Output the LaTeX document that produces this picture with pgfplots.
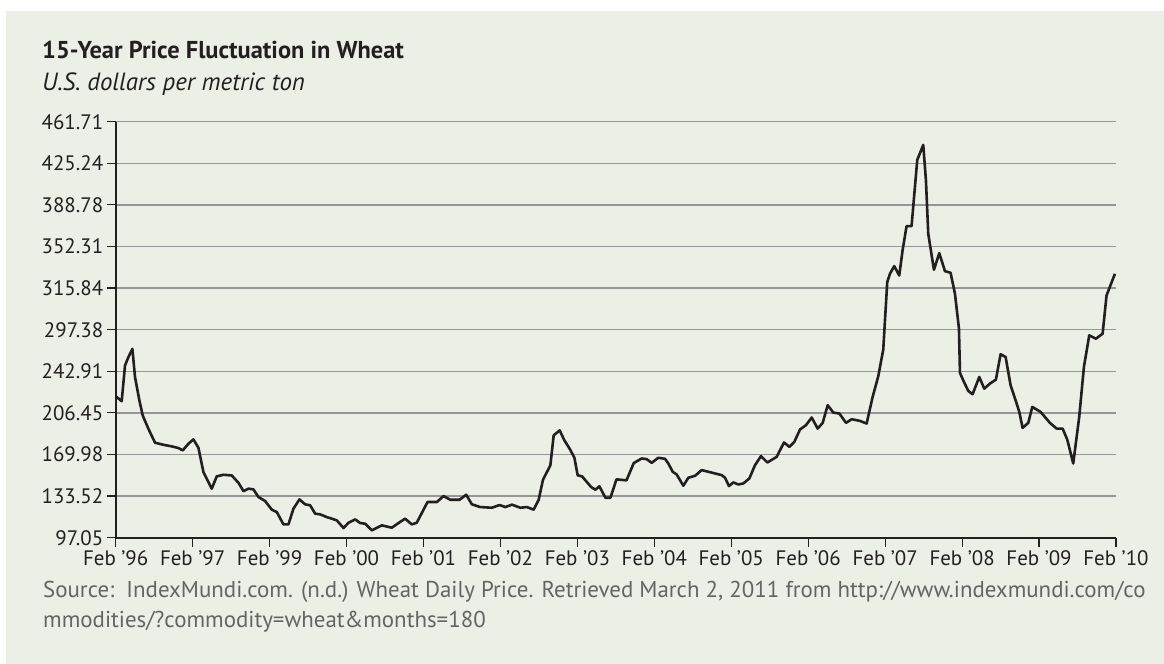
\documentclass[border=0pt]{standalone}
\usepackage{fontspec}
\setmainfont{PT Sans}
\usepackage{pgfplots}
\pgfplotsset{compat=1.18}

\definecolor{panel}{RGB}{235,239,230}
\definecolor{ink}{RGB}{35,31,32}
\definecolor{gridgray}{RGB}{150,150,150}
\definecolor{srcgray}{RGB}{100,100,100}

% Monthly wheat price; x is measured in tick intervals (one per labelled year)
\pgfplotstableread{
t v
0.000 221.1
0.078 216.7
0.121 248.0
0.165 255.3
0.217 262.6
0.251 237.8
0.308 217.3
0.351 204.2
0.425 192.5
0.511 180.3
0.620 178.5
0.728 177.1
0.815 175.6
0.871 173.6
0.945 179.4
1.010 183.2
1.075 175.9
1.140 154.6
1.248 140.0
1.313 150.8
1.400 152.2
1.508 151.6
1.595 145.2
1.660 137.9
1.725 140.0
1.790 139.4
1.855 132.7
1.942 129.2
2.029 121.6
2.094 119.5
2.180 108.7
2.245 108.7
2.310 122.5
2.388 130.6
2.462 126.3
2.527 125.4
2.592 118.1
2.657 117.5
2.744 115.1
2.809 113.7
2.874 112.2
2.961 105.5
3.026 110.2
3.112 113.1
3.177 109.9
3.242 109.3
3.329 103.5
3.458 107.9
3.588 105.8
3.675 109.9
3.761 113.7
3.848 108.7
3.913 110.2
4.052 128.3
4.174 128.3
4.260 133.6
4.347 130.3
4.469 130.3
4.555 134.7
4.629 126.3
4.738 123.9
4.889 123.3
4.989 125.7
5.063 123.9
5.150 126.0
5.258 123.3
5.345 123.9
5.432 121.6
5.497 130.3
5.553 147.9
5.649 160.5
5.692 186.8
5.770 191.1
5.831 182.4
5.900 175.0
5.961 167.2
6.004 151.7
6.061 150.8
6.178 141.5
6.234 139.1
6.286 142.1
6.364 132.1
6.430 132.1
6.508 148.2
6.638 147.3
6.733 162.5
6.836 166.5
6.900 165.9
6.966 162.7
7.052 167.1
7.139 166.2
7.182 162.1
7.239 154.8
7.290 152.5
7.377 142.6
7.442 149.6
7.529 151.3
7.615 156.3
7.875 151.9
7.919 149.6
7.970 142.3
8.027 145.5
8.092 143.7
8.157 144.6
8.235 149.0
8.308 160.6
8.386 168.5
8.469 163.0
8.590 167.9
8.685 180.5
8.755 176.7
8.820 181.1
8.893 191.9
8.971 195.7
9.045 202.4
9.123 192.7
9.188 197.7
9.253 213.2
9.326 206.7
9.405 205.9
9.491 197.7
9.565 200.9
9.673 199.4
9.759 197.1
9.837 220.4
9.910 238.5
9.975 261.9
10.027 321.1
10.062 328.4
10.118 335.1
10.183 326.9
10.226 348.8
10.278 370.1
10.343 370.1
10.417 428.2
10.495 441.3
10.530 410.1
10.560 363.4
10.634 331.9
10.703 346.5
10.777 330.7
10.850 329.3
10.907 310.9
10.959 280.3
10.972 241.5
11.024 233.6
11.080 225.7
11.136 222.8
11.223 237.9
11.288 227.7
11.361 232.1
11.439 235.6
11.500 257.8
11.565 255.5
11.630 230.7
11.695 217.5
11.743 207.3
11.786 193.3
11.860 197.7
11.912 211.7
12.020 207.3
12.141 197.7
12.228 192.7
12.306 192.7
12.366 183.1
12.444 162.1
12.522 202.9
12.583 246.7
12.652 274.4
12.739 271.5
12.826 275.9
12.877 309.4
12.986 328.4
}\wheat

\begin{document}
\begin{tikzpicture}[x=1bp,y=1bp]
% page and panel
\fill[white] (0,0) rectangle (1164,664);
\fill[panel] (6,0) rectangle (1164,653);

% heading
\node[anchor=base west, inner sep=0, text=ink,
      font=\fontsize{24.5}{24.5}\selectfont\bfseries] at (42,605)
  {15-Year Price Fluctuation in Wheat};
\node[anchor=base west, inner sep=0, text=ink,
      font=\fontsize{25}{25}\selectfont\itshape] at (42,573)
  {U.S. dollars per metric ton};

\begin{axis}[
  at={(115.7bp,126.3bp)}, anchor=south west,
  scale only axis, width=1000.3bp, height=416bp,
  xmin=0, xmax=13, ymin=97.05, ymax=461.71,
  axis x line*=bottom, axis y line*=left,
  axis line style={ink, line width=1.8bp},
  tick align=outside, major tick length=9bp,
  tick style={ink, line width=1.2bp},
  xtick={0,...,13},
  xticklabels={Feb '96, Feb '97, Feb '99, Feb '00, Feb '01, Feb '02, Feb '03,
               Feb '04, Feb '05, Feb '06, Feb '07, Feb '08, Feb '09, Feb '10},
  ytick={97.05,133.516,169.982,206.448,242.914,279.38,315.846,352.312,388.778,425.244,461.71},
  yticklabels={97.05,133.52,169.98,206.45,242.91,297.38,315.84,352.31,388.78,425.24,461.71},
  ticklabel style={text=ink, font=\fontsize{21}{21}\selectfont},
  ymajorgrids, major grid style={gridgray, line width=1.3bp},
  clip=false,
]
\addplot[ink, line width=2.6bp, line join=round] table[x=t, y=v] {\wheat};
\end{axis}

% source note
\node[anchor=base west, inner sep=0, text=srcgray,
      font=\fontsize{23}{23}\selectfont] at (43,66)
  {Source:\ \ IndexMundi.com. (n.d.) Wheat Daily Price. Retrieved March 2, 2011 from http://www.indexmundi.com/co};
\node[anchor=base west, inner sep=0, text=srcgray,
      font=\fontsize{23}{23}\selectfont] at (43,36)
  {mmodities/?commodity=wheat\&months=180};
\end{tikzpicture}
\end{document}
